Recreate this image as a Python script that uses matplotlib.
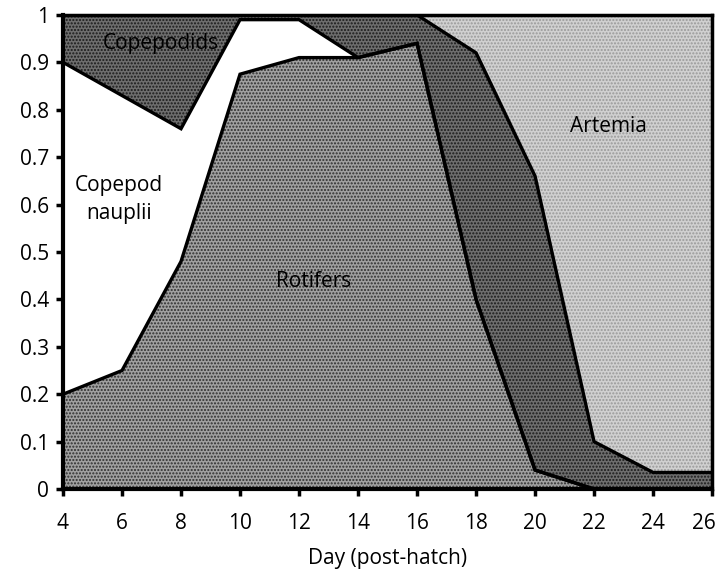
import numpy as np
import matplotlib
matplotlib.use("Agg")
import matplotlib.pyplot as plt
from matplotlib.transforms import ScaledTranslation

plt.rcParams['font.family'] = ['Open Sans', 'DejaVu Sans']
plt.rcParams['hatch.linewidth'] = 1.0

days = [4, 6, 8, 10, 12, 14, 16, 18, 20, 22, 24, 26]
rotifers    = [0.20, 0.25, 0.48, 0.875, 0.91, 0.91, 0.94, 0.40, 0.04, 0.0, 0.0, 0.0]
nauplii     = [0.70, 0.58, 0.28, 0.115, 0.08, 0.0, 0.0, 0.0, 0.0, 0.0, 0.0, 0.0]
copepodids  = [0.10, 0.17, 0.24, 0.01, 0.01, 0.09, 0.06, 0.52, 0.62, 0.10, 0.035, 0.035]
artemia     = [0.0, 0.0, 0.0, 0.0, 0.0, 0.0, 0.0, 0.08, 0.34, 0.90, 0.965, 0.965]

x = np.array(days, dtype=float)
c1 = np.array(rotifers)
c2 = c1 + np.array(nauplii)
c3 = c2 + np.array(copepodids)
c4 = c3 + np.array(artemia)

fig = plt.figure(figsize=(7.2, 5.74), dpi=100)
ax = fig.add_axes([0.0875, 0.148, 0.9015, 0.826])

# stacked bands
ax.fill_between(x, 0, c1, facecolor='#a0a0a0', edgecolor='#2e2e2e', hatch='.....', linewidth=0)
ax.fill_between(x, c1, c2, facecolor='white', linewidth=0)
ax.fill_between(x, c2, c3, facecolor='#6e6e6e', edgecolor='#1a1a1a', hatch='.....', linewidth=0)
ax.fill_between(x, c3, c4, facecolor='#d0d0d0', edgecolor='#999999', hatch='.....', linewidth=0)

# band outlines
for c in (c1, c2, c3):
    ax.plot(x, c, color='black', linewidth=2.4, solid_joinstyle='miter')

ax.set_xlim(4, 26)
ax.set_ylim(0, 1)
ax.set_xticks(range(4, 27, 2))
ax.set_yticks(np.round(np.arange(0, 1.01, 0.1), 1))
ax.set_yticklabels(['0', '0.1', '0.2', '0.3', '0.4', '0.5', '0.6', '0.7', '0.8', '0.9', '1'])

for side in ('left', 'bottom'):
    ax.spines[side].set_linewidth(3)
for side in ('top', 'right'):
    ax.spines[side].set_linewidth(2.5)

ax.tick_params(axis='both', direction='out', length=5, width=2.5, labelsize=15)
ax.tick_params(axis='y', pad=5)
ax.tick_params(axis='x', pad=12)
ax.set_xlabel('Day (post-hatch)', fontsize=15, labelpad=10)

# keep the last day label inside the canvas
last = ax.get_xticklabels()[-1]
last.set_transform(last.get_transform() + ScaledTranslation(-8 / 100, 0, fig.dpi_scale_trans))

ax.text(7.3, 0.94, 'Copepodids', fontsize=15, ha='center', va='center')
ax.text(5.9, 0.61, 'Copepod\nnauplii', fontsize=15, ha='center', va='center', linespacing=1.45)
ax.text(12.5, 0.437, 'Rotifers', fontsize=15, ha='center', va='center')
ax.text(22.5, 0.764, 'Artemia', fontsize=15, ha='center', va='center')

fig.savefig('out.png', dpi=100)
